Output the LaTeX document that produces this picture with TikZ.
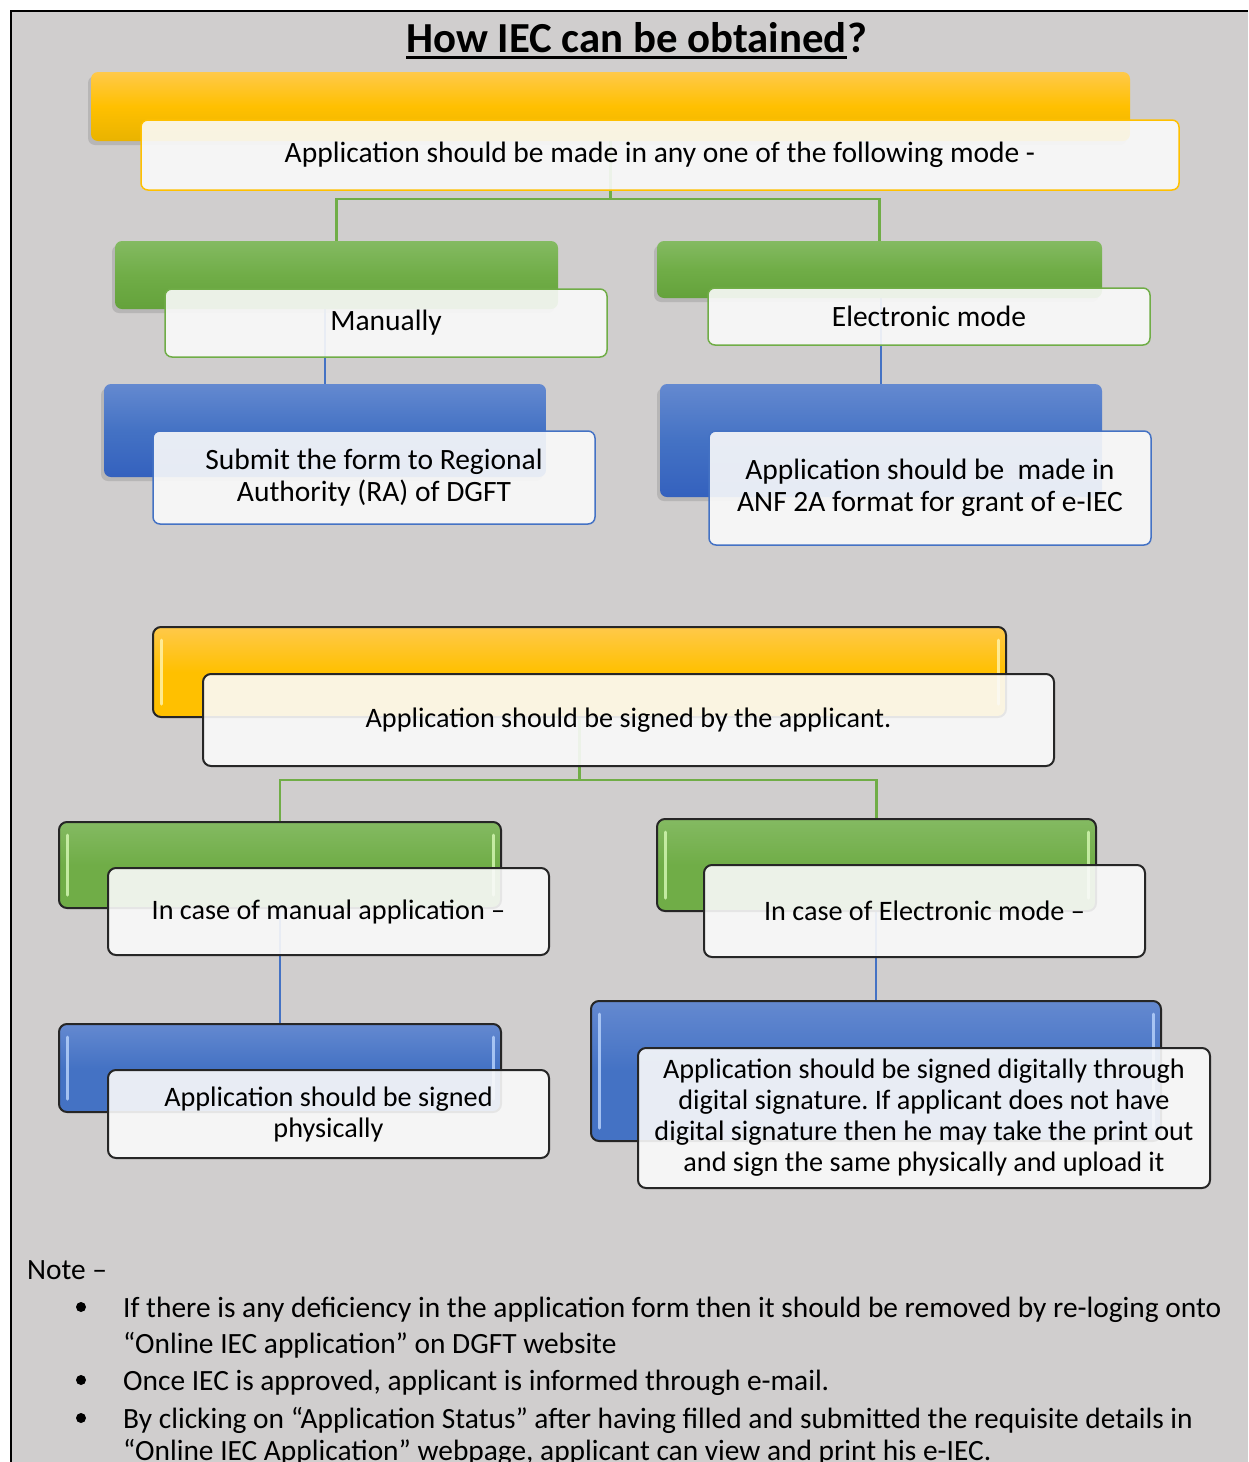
\documentclass[tikz,border=0pt]{standalone}
\usepackage{fontspec}
\setmainfont{Carlito}
\frenchspacing
\usetikzlibrary{shadows,calc}
\definecolor{bggrey}{HTML}{D0CECE}
\definecolor{cY}{HTML}{FFC000}
\definecolor{yTop}{HTML}{FFC94A}
\definecolor{yBot}{HTML}{E9B300}
\definecolor{yHL}{HTML}{FFF2A8}
\definecolor{cG}{HTML}{70AD47}
\definecolor{gTop}{HTML}{84BA62}
\definecolor{gBot}{HTML}{64A23B}
\definecolor{gHL}{HTML}{D2F5B0}
\definecolor{cB}{HTML}{4472C4}
\definecolor{bTop}{HTML}{6489D0}
\definecolor{bBot}{HTML}{3461BE}
\definecolor{bHL}{HTML}{B5D0FA}
\definecolor{frontfill}{HTML}{FAFAFA}
\pgfdeclarelayer{bglayer}
\pgfdeclarelayer{connlayer}
\pgfsetlayers{bglayer,connlayer,main}
\tikzset{
  backone/.style={rounded corners=7pt, inner sep=0pt,
    drop shadow={shadow xshift=-3pt, shadow yshift=-4pt, opacity=0.3}},
  frontone/.style={rounded corners=7pt, inner sep=0pt, fill=frontfill,
    fill opacity=0.9, text opacity=1, line width=1.5pt, align=center,
    font=\fontsize{29.5}{32}\selectfont},
  backtwo/.style={rounded corners=8pt, inner sep=0pt, draw=black!85, line width=2pt},
  fronttwo/.style={rounded corners=8pt, inner sep=0pt, fill=frontfill,
    fill opacity=0.9, text opacity=1, draw=black!85, line width=2pt, align=center,
    font=\fontsize{28.2}{31}\selectfont},
  hl/.style={line width=3pt, line cap=round, draw opacity=0.85},
  gline/.style={draw=cG, line width=2.5pt},
  bline/.style={draw=cB, line width=2.5pt},
  notetext/.style={inner sep=0pt, font=\fontsize{29.4}{36}\selectfont},
  bullet/.style={circle, fill=black, inner sep=0pt, minimum size=10pt},
}
\begin{document}
\begin{tikzpicture}[x=1pt,y=-1pt]
\useasboundingbox (0,0) rectangle (1248,1462);
\begin{pgfonlayer}{bglayer}
  \fill[bggrey] (11,11) rectangle (1248,1462);
  \draw[line width=2pt] (11,1462) -- (11,11) -- (1248,11);
\end{pgfonlayer}

% Title
\node[inner sep=0pt, font=\fontsize{42.8}{50}\bfseries\selectfont, anchor=base west] (title) at (406,52) {How IEC can be obtained};
\node[inner sep=0pt, font=\fontsize{42.8}{50}\bfseries\selectfont, anchor=base west] (titleq) at (title.base east) {?};
\draw[line width=3pt] ([yshift=-5.5pt]title.base west) -- ([yshift=-5.5pt]title.base east);

% ---- Section 1
\node[backone, top color=yTop, bottom color=yBot, middle color=cY, minimum width=1039pt, minimum height=69pt] (t1b) at (610.5,106.5) {};
\node[frontone, draw=cY, minimum width=1038pt, minimum height=70pt] (t1f) at (660,155) {Application should be made in any one of the following mode -};

\node[backone, top color=gTop, bottom color=gBot, middle color=cG, minimum width=443pt, minimum height=68pt] (g1b) at (336.5,275) {};
\node[frontone, draw=cG, minimum width=442pt, minimum height=68pt] (g1f) at (386,323) {Manually};
\node[backone, top color=gTop, bottom color=gBot, middle color=cG, minimum width=445pt, minimum height=57pt] (g2b) at (879.5,269.5) {};
\node[frontone, draw=cG, minimum width=442pt, minimum height=57pt] (g2f) at (929,316.5) {Electronic mode};

\node[backone, top color=bTop, bottom color=bBot, middle color=cB, minimum width=442pt, minimum height=93pt] (b1b) at (325,430.5) {};
\node[frontone, draw=cB, minimum width=442pt, minimum height=93pt] (b1f) at (374,477.5) {Submit the form to Regional\\Authority (RA) of DGFT};
\node[backone, top color=bTop, bottom color=bBot, middle color=cB, minimum width=442pt, minimum height=113pt] (b2b) at (881,440.5) {};
\node[frontone, draw=cB, minimum width=442pt, minimum height=114pt] (b2f) at (930,488) {Application should be\ \ made in\\ANF 2A format for grant of e-IEC};

\coordinate (j1) at (610.5,199);
\begin{pgfonlayer}{connlayer}
  \draw[gline] (t1b.south) -- (j1) -| (g1b.north);
  \draw[gline] (j1) -| (g2b.north);
  \draw[bline] (b1b.north |- g1b.south) -- (b1b.north);
  \draw[bline] (b2b.north |- g2b.south) -- (b2b.north);
\end{pgfonlayer}

% ---- Section 2
\node[backtwo, top color=yTop, bottom color=cY, middle color=cY, minimum width=853pt, minimum height=90pt] (s2yb) at (579.5,672) {};
\draw[hl, draw=yHL] ([xshift=9pt,yshift=-14pt]s2yb.north west) -- ([xshift=9pt,yshift=14pt]s2yb.south west);
\draw[hl, draw=yHL] ([xshift=-9pt,yshift=-14pt]s2yb.north east) -- ([xshift=-9pt,yshift=14pt]s2yb.south east);
\node[fronttwo, minimum width=851pt, minimum height=92pt] (s2yf) at (628.5,720) {Application should be signed by the applicant.};

\node[backtwo, top color=gTop, bottom color=cG, middle color=cG, minimum width=442pt, minimum height=86pt] (s2g1b) at (280,865) {};
\draw[hl, draw=gHL] ([xshift=9pt,yshift=-14pt]s2g1b.north west) -- ([xshift=9pt,yshift=14pt]s2g1b.south west);
\draw[hl, draw=gHL] ([xshift=-9pt,yshift=-14pt]s2g1b.north east) -- ([xshift=-9pt,yshift=14pt]s2g1b.south east);
\node[fronttwo, minimum width=441pt, minimum height=87pt] (s2g1f) at (328.5,911.5) {In case of manual application –};

\node[backtwo, top color=gTop, bottom color=cG, middle color=cG, minimum width=439pt, minimum height=92pt] (s2g2b) at (876.5,865) {};
\draw[hl, draw=gHL] ([xshift=9pt,yshift=-14pt]s2g2b.north west) -- ([xshift=9pt,yshift=14pt]s2g2b.south west);
\draw[hl, draw=gHL] ([xshift=-9pt,yshift=-14pt]s2g2b.north east) -- ([xshift=-9pt,yshift=14pt]s2g2b.south east);
\node[fronttwo, minimum width=441pt, minimum height=92pt] (s2g2f) at (924.5,911) {In case of Electronic mode –};

\node[backtwo, top color=bTop, bottom color=cB, middle color=cB, minimum width=442pt, minimum height=88pt] (s2b1b) at (280,1068) {};
\draw[hl, draw=bHL] ([xshift=9pt,yshift=-14pt]s2b1b.north west) -- ([xshift=9pt,yshift=14pt]s2b1b.south west);
\draw[hl, draw=bHL] ([xshift=-9pt,yshift=-14pt]s2b1b.north east) -- ([xshift=-9pt,yshift=14pt]s2b1b.south east);
\node[fronttwo, minimum width=441pt, minimum height=88pt] (s2b1f) at (328.5,1114) {Application should be signed\\physically};

\node[backtwo, top color=bTop, bottom color=cB, middle color=cB, minimum width=570pt, minimum height=140pt] (s2b2b) at (876,1071) {};
\draw[hl, draw=bHL] ([xshift=9pt,yshift=-14pt]s2b2b.north west) -- ([xshift=9pt,yshift=14pt]s2b2b.south west);
\draw[hl, draw=bHL] ([xshift=-9pt,yshift=-14pt]s2b2b.north east) -- ([xshift=-9pt,yshift=14pt]s2b2b.south east);
\node[fronttwo, minimum width=572pt, minimum height=140pt] (s2b2f) at (924,1118) {Application should be signed digitally through\\digital signature. If applicant does not have\\digital signature then he may take the print out\\and sign the same physically and upload it};

\coordinate (j2) at (579.5,780);
\begin{pgfonlayer}{connlayer}
  \draw[gline] (s2yb.south) -- (j2) -| (s2g1b.north);
  \draw[gline] (j2) -| (s2g2b.north);
  \draw[bline] (s2b1b.north |- s2g1b.south) -- (s2b1b.north);
  \draw[bline] (s2b2b.north |- s2g2b.south) -- (s2b2b.north);
\end{pgfonlayer}

% ---- Notes
\node[notetext, anchor=base west] (note) at (27,1279) {Note –};
\node[bullet] (bu1) at (81,1307) {};
\node[notetext, anchor=base west] (n1a) at (123,1317) {If there is any deficiency in the application form then it should be removed by re-loging onto};
\node[notetext, anchor=base west] (n1b) at (123,1353) {“Online IEC application” on DGFT website};
\node[bullet] (bu2) at (81,1380) {};
\node[notetext, anchor=base west] (n2) at (123,1390) {Once IEC is approved, applicant is informed through e-mail.};
\node[bullet] (bu3) at (81,1418) {};
\node[notetext, anchor=base west] (n3a) at (123,1428) {By clicking on “Application Status” after having filled and submitted the requisite details in};
\node[notetext, anchor=base west] (n3b) at (123,1460) {“Online IEC Application” webpage, applicant can view and print his e-IEC.};
\end{tikzpicture}
\end{document}
